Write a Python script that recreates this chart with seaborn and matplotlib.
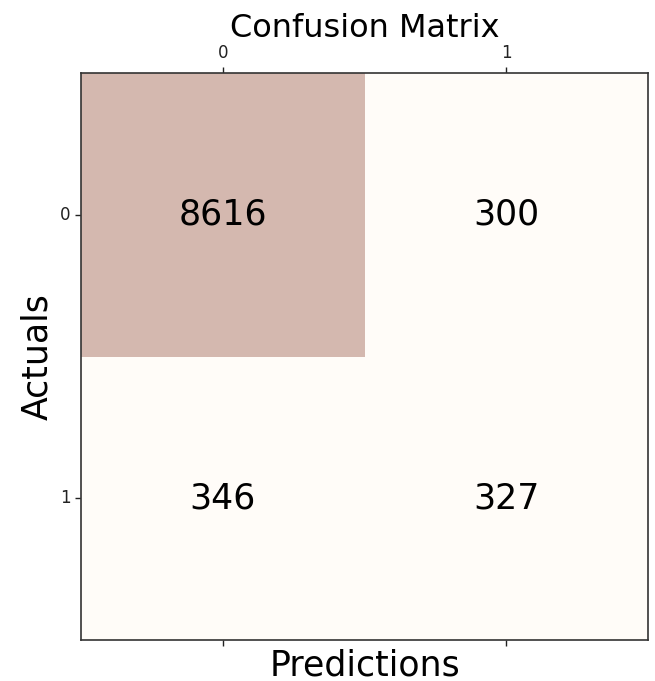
import numpy as np
import pandas as pd
import matplotlib
matplotlib.use('Agg')
import matplotlib.pyplot as plt
import seaborn as sns

# Confusion matrix values
labels = ['0', '1']
row_actual_0 = [8616, 300]
row_actual_1 = [346, 327]

cm = pd.DataFrame([row_actual_0, row_actual_1], index=labels, columns=labels)

sns.set_style('white')
plt.rcParams['font.family'] = ['DejaVu Sans']

# washed-out reds, like Reds with low alpha on a slightly warm background
cmap = sns.blend_palette(['#fffcf8', '#d4b8af'], as_cmap=True)

fig = plt.figure(figsize=(6.55, 6.81), dpi=100)
ax = fig.add_axes([0.124, 0.060, 0.865, 0.833])

sns.heatmap(cm, ax=ax, cmap=cmap, cbar=False,
            annot=True, fmt='d', annot_kws={'size': 25, 'color': 'black'})

# matshow style: labels on top, ticks on both sides
ax.tick_params(top=True, bottom=True, labeltop=True, labelbottom=False,
               left=True, length=4, width=1, labelsize=12, colors='#222222')
ax.set_yticklabels(labels, rotation=0)
for s in ax.spines.values():
    s.set_visible(True)
    s.set_color('#333333')
    s.set_linewidth(1.2)

ax.set_xlabel('Predictions', fontsize=25, color='black', labelpad=2)
ax.xaxis.set_label_position('bottom')
ax.set_ylabel('Actuals', fontsize=25, color='black')
ax.set_title('Confusion Matrix', fontsize=23, color='black', pad=4)

fig.savefig('out.png', dpi=100)
